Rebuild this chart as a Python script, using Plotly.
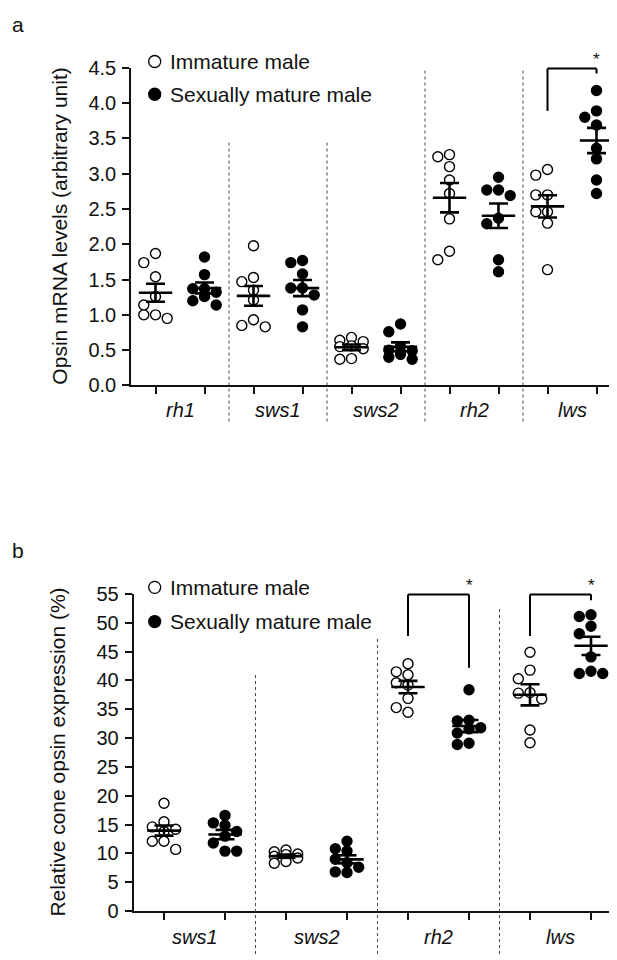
import numpy as np
import plotly.graph_objects as go

W, H = 617, 960
FONT = "Arial, Liberation Sans, sans-serif"

# ---------------- data: panel a (arbitrary unit) ----------------
genes_a = ["rh1", "sws1", "sws2", "rh2", "lws"]
rh1_imm_a = [1.87, 1.74, 1.54, 1.26, 1.14, 1.00, 0.95, 1.00]
rh1_mat_a = [1.82, 1.57, 1.37, 1.32, 1.37, 1.26, 1.20, 1.14]
sws1_imm_a = [1.98, 1.53, 1.47, 1.35, 1.21, 0.93, 0.83, 0.85]
sws1_mat_a = [1.74, 1.77, 1.58, 1.38, 1.38, 1.28, 1.07, 0.83]
sws2_imm_a = [0.68, 0.64, 0.62, 0.56, 0.55, 0.52, 0.37, 0.38]
sws2_mat_a = [0.87, 0.76, 0.55, 0.50, 0.49, 0.44, 0.40, 0.37]
rh2_imm_a = [3.27, 3.24, 3.10, 2.91, 2.72, 2.36, 1.78, 1.90]
rh2_mat_a = [2.95, 2.77, 2.69, 2.77, 2.29, 2.37, 1.78, 1.61]
lws_imm_a = [3.06, 2.98, 2.70, 2.70, 2.46, 2.46, 2.30, 1.64]
lws_mat_a = [4.18, 3.89, 3.80, 3.69, 3.36, 3.21, 2.91, 2.72]
imm_a = [rh1_imm_a, sws1_imm_a, sws2_imm_a, rh2_imm_a, lws_imm_a]
mat_a = [rh1_mat_a, sws1_mat_a, sws2_mat_a, rh2_mat_a, lws_mat_a]
yticks_a = [0.0, 0.5, 1.0, 1.5, 2.0, 2.5, 3.0, 3.5, 4.0, 4.5]
divider_tops_a = [3.45, 3.45, 4.5, 4.5]
# bracket: [group index, left-leg bottom, top, right-leg bottom]
brackets_a = [[4, 3.89, 4.49, 4.42]]

# ---------------- data: panel b (%) ----------------
genes_b = ["sws1", "sws2", "rh2", "lws"]
sws1_imm_b = [18.7, 15.5, 14.6, 14.2, 13.8, 12.1, 12.1, 10.7]
sws1_mat_b = [16.6, 15.3, 14.9, 13.8, 13.0, 11.8, 10.4, 10.4]
sws2_imm_b = [10.6, 10.3, 9.9, 9.8, 9.5, 9.2, 8.6, 8.3]
sws2_mat_b = [12.1, 10.4, 10.8, 9.0, 7.6, 8.4, 6.7, 6.8]
rh2_imm_b = [42.9, 41.0, 41.5, 39.6, 39.2, 36.9, 35.3, 34.5]
rh2_mat_b = [38.4, 33.0, 33.1, 31.6, 31.8, 30.9, 28.9, 29.1]
lws_imm_b = [44.9, 41.8, 40.3, 37.9, 37.8, 36.8, 31.4, 29.2]
lws_mat_b = [51.4, 51.1, 49.4, 48.1, 44.1, 41.6, 41.2, 41.2]
imm_b = [sws1_imm_b, sws2_imm_b, rh2_imm_b, lws_imm_b]
mat_b = [sws1_mat_b, sws2_mat_b, rh2_mat_b, lws_mat_b]
yticks_b = list(range(0, 56, 5))
divider_tops_b = [41.0, 47.5, 52.7]
brackets_b = [[2, 47.7, 54.9, 42.2], [3, 47.7, 54.9, 53.9]]

legend_labels = ["Immature male", "Sexually mature male"]

# ---------------- layout geometry (pixels) ----------------
panels = {
    "a": dict(x0=123.0, x1=613.0, ytop=50.0, ybot=375.0, n=len(genes_a),
              yr=[0, 4.5], genes=genes_a, imm=imm_a, mat=mat_a, yt=yticks_a,
              fmt=".1f", tops=divider_tops_a, br=brackets_a,
              div_bottom_px=412.0, label_px=400.0, legend_px=[43.5, 77.0],
              title="Opsin mRNA levels (arbitrary unit)", title_x=52.0,
              letter="a", letter_y=6.0),
    "b": dict(x0=125.5, x1=613.5, ytop=588.5, ybot=913.0, n=len(genes_b),
              yr=[0, 55], genes=genes_b, imm=imm_b, mat=mat_b, yt=yticks_b,
              fmt="d", tops=divider_tops_b, br=brackets_b,
              div_bottom_px=957.0, label_px=940.0, legend_px=[581.7, 616.7],
              title="Relative cone opsin expression (%)", title_x=50.0,
              letter="b", letter_y=544.0),
}


def swarm(vals, center, ppx, ppy, step=11.7, mind=9.5):
    vals = np.asarray(vals, float)
    order = np.argsort(-vals, kind="stable")
    placed = []
    offs = np.zeros(len(vals))
    for i in order:
        best, bestd = 0.0, -1.0
        for k in (0, -1, 1):
            ox = k * step
            dmin = min([np.hypot(ox - px, (vals[i] - v) * ppy) for px, v in placed], default=1e9)
            if dmin >= mind:
                best = ox
                break
            if dmin > bestd:
                bestd, best = dmin, ox
        offs[i] = best
        placed.append((best, vals[i]))
    return center + offs / ppx


fig = go.Figure()
shapes = []
annotations = []

for idx, (key, P) in enumerate(panels.items()):
    xa = "x" if idx == 0 else "x2"
    ya = "y" if idx == 0 else "y2"
    npos = 2 * P["n"]
    xr = [-0.5, npos - 0.5]
    ppx = (P["x1"] - P["x0"]) / (xr[1] - xr[0])
    ppy = (P["ybot"] - P["ytop"]) / (P["yr"][1] - P["yr"][0])
    dom_y = [1 - P["ybot"] / H, 1 - P["ytop"] / H]

    def ypaper(v, P=P, dom_y=dom_y):
        return dom_y[0] + (v - P["yr"][0]) / (P["yr"][1] - P["yr"][0]) * (dom_y[1] - dom_y[0])

    axis_common = dict(showline=True, linecolor="#111", linewidth=1.6, ticks="outside",
                       ticklen=7, tickwidth=1.6, tickcolor="#111", showgrid=False,
                       zeroline=False, mirror=False)
    fig.update_layout(**{
        ("xaxis" if idx == 0 else "xaxis2"): dict(
            domain=[P["x0"] / W, P["x1"] / W], range=xr, anchor=ya,
            tickvals=list(range(npos)), showticklabels=False, **axis_common),
        ("yaxis" if idx == 0 else "yaxis2"): dict(
            domain=dom_y, range=P["yr"], anchor=xa, tickvals=P["yt"],
            tickformat=P["fmt"], ticklabelstandoff=2,
            tickfont=dict(family=FONT, size=20, color="#111"), **axis_common),
    })

    mean_x, mean_y = [], []
    for g in range(P["n"]):
        for j, (vals, filled) in enumerate(((P["imm"][g], False), (P["mat"][g], True))):
            pos = 2 * g + j
            xs = swarm(vals, pos, ppx, ppy)
            fig.add_trace(go.Scatter(
                x=xs, y=vals, mode="markers", xaxis=xa, yaxis=ya, showlegend=False,
                cliponaxis=False,
                marker=dict(size=10, symbol="circle",
                            color="#000" if filled else "white",
                            line=dict(color="#000", width=1.4))))
            v = np.asarray(vals, float)
            m = v.mean()
            sem = v.std(ddof=1) / np.sqrt(len(v))
            hw = 16.7 / ppx
            cw = 9.5 / ppx
            mean_x += [pos - hw, pos + hw, None, pos - cw, pos + cw, None,
                       pos - cw, pos + cw, None, pos, pos, None]
            mean_y += [m, m, None, m + sem, m + sem, None, m - sem, m - sem, None,
                       m - sem, m + sem, None]
        annotations.append(dict(x=2 * g + 0.5, xref=xa, y=1 - P["label_px"] / H, yref="paper",
                                text="<i>%s</i>" % P["genes"][g], showarrow=False,
                                xanchor="center", yanchor="middle",
                                font=dict(family=FONT, size=20, color="#111")))
    fig.add_trace(go.Scatter(x=mean_x, y=mean_y, mode="lines", xaxis=xa, yaxis=ya,
                             showlegend=False, line=dict(color="#000", width=2.6)))

    # dotted separators between gene groups
    for g, top in enumerate(P["tops"]):
        shapes.append(dict(type="line", xref=xa, yref="paper", x0=2 * g + 1.5, x1=2 * g + 1.5,
                           y0=1 - P["div_bottom_px"] / H, y1=ypaper(top),
                           line=dict(color="#444", width=1, dash="dot")))

    # significance brackets
    for g, lb, top, rb in P["br"]:
        xl, xrr = 2 * g, 2 * g + 1
        for (a0, b0, a1, b1) in ((xl, lb, xl, top), (xl, top, xrr, top), (xrr, top, xrr, rb)):
            shapes.append(dict(type="line", xref=xa, yref="paper", x0=a0, x1=a1,
                               y0=ypaper(b0), y1=ypaper(b1),
                               line=dict(color="#000", width=2)))
        annotations.append(dict(x=xrr, xref=xa, y=ypaper(top), yref="paper", text="*",
                                showarrow=False, xanchor="center", yanchor="bottom",
                                yshift=-2, font=dict(family=FONT, size=17, color="#111")))

    # legend (drawn manually)
    for r, lab in enumerate(legend_labels):
        yc = 1 - P["legend_px"][r] / H
        shapes.append(dict(type="circle", xref="paper", yref="paper",
                           xsizemode="pixel", ysizemode="pixel",
                           xanchor=146.7 / W, yanchor=yc, x0=-6, x1=6, y0=-6, y1=6,
                           fillcolor="#000" if r == 1 else "white",
                           line=dict(color="#000", width=1.3)))
        annotations.append(dict(x=160.0 / W, xref="paper", y=yc, yref="paper", text=lab,
                                showarrow=False, xanchor="left", yanchor="middle",
                                font=dict(family=FONT, size=21, color="#111")))

    # axis title
    annotations.append(dict(x=P["title_x"] / W, xref="paper",
                            y=1 - (P["ytop"] + P["ybot"]) / 2 / H, yref="paper",
                            text=P["title"], textangle=-90, showarrow=False,
                            xanchor="center", yanchor="middle",
                            font=dict(family=FONT, size=21, color="#111")))
    # panel letter
    annotations.append(dict(x=2.0 / W, xref="paper", y=1 - P["letter_y"] / H, yref="paper",
                            text=P["letter"], showarrow=False, xanchor="left", yanchor="middle",
                            font=dict(family=FONT, size=21, color="#111")))

fig.update_layout(width=W, height=H, margin=dict(l=0, r=0, t=0, b=0),
                  paper_bgcolor="white", plot_bgcolor="white",
                  shapes=shapes, annotations=annotations, showlegend=False)
fig.write_html("out.html")
